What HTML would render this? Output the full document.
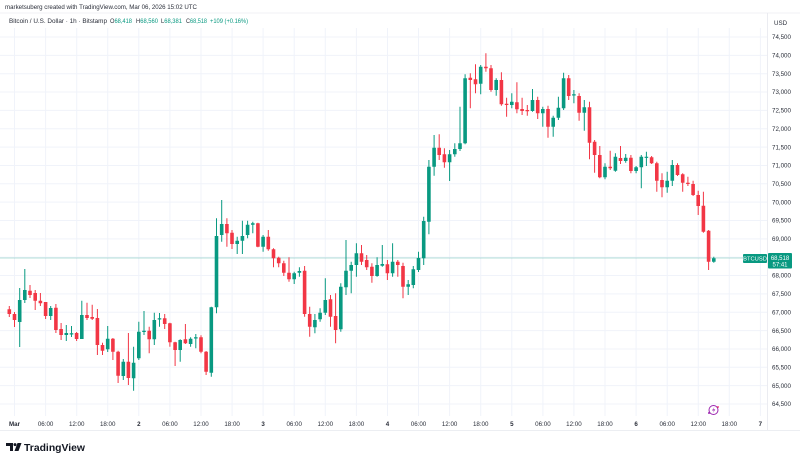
<!DOCTYPE html>
<html><head><meta charset="utf-8"><style>
html,body{margin:0;padding:0;background:#fff;}
svg{display:block;font-family:"Liberation Sans",Arial,sans-serif;}
</style></head><body>
<svg width="800" height="462" viewBox="0 0 800 462" xmlns="http://www.w3.org/2000/svg">
<rect width="800" height="462" fill="#fff"/>
<!-- header -->
<text x="5" y="9.2" font-size="6.4" fill="#2a2e39" textLength="192" lengthAdjust="spacingAndGlyphs">marketsuberg created with TradingView.com, Mar 06, 2026 15:02 UTC</text>
<line x1="0" y1="13" x2="800" y2="13" stroke="#eceef2" stroke-width="0.8"/>
<g font-size="6.4" fill="#2a2e39">
<text x="9" y="23.2" textLength="98" lengthAdjust="spacingAndGlyphs">Bitcoin / U.S. Dollar · 1h · Bitstamp</text>
<text x="110" y="23.2" textLength="22" lengthAdjust="spacingAndGlyphs">O<tspan fill="#089981">68,418</tspan></text>
<text x="136" y="23.2" textLength="22" lengthAdjust="spacingAndGlyphs">H<tspan fill="#089981">68,560</tspan></text>
<text x="161" y="23.2" textLength="21" lengthAdjust="spacingAndGlyphs">L<tspan fill="#089981">68,381</tspan></text>
<text x="186" y="23.2" textLength="21" lengthAdjust="spacingAndGlyphs">C<tspan fill="#089981">68,518</tspan></text>
<text x="210" y="23.2" fill="#089981" textLength="38" lengthAdjust="spacingAndGlyphs">+109 (+0.16%)</text>
</g>
<!-- grid -->
<g stroke="#f0f3fa" stroke-width="1">
<path d="M0 37H767M0 55.35H767M0 73.7H767M0 92.05H767M0 110.4H767M0 128.75H767M0 147.1H767M0 165.45H767M0 183.8H767M0 202.15H767M0 220.5H767M0 238.85H767M0 257.2H767M0 275.55H767M0 293.9H767M0 312.25H767M0 330.6H767M0 348.95H767M0 367.3H767M0 385.65H767M0 404H767"/>
<path d="M14.5 28V416M45.6 28V416M76.7 28V416M107.7 28V416M138.8 28V416M169.9 28V416M201 28V416M232.1 28V416M263.1 28V416M294.2 28V416M325.3 28V416M356.4 28V416M387.5 28V416M418.5 28V416M449.6 28V416M480.7 28V416M511.8 28V416M542.9 28V416M573.9 28V416M605 28V416M636.1 28V416M667.2 28V416M698.3 28V416M729.3 28V416M760.4 28V416"/>
</g>
<line x1="767.5" y1="13" x2="767.5" y2="430" stroke="#e6e8ee" stroke-width="0.8"/>
<line x1="0" y1="430.5" x2="800" y2="430.5" stroke="#e6e8ee" stroke-width="0.8"/>
<!-- current price line -->
<line x1="0" y1="258" x2="767" y2="258" stroke="#089981" stroke-opacity="0.4" stroke-width="0.8"/>
<!-- candles -->
<g fill="none" stroke-linecap="butt">
<path stroke="#f23645" stroke-width="1" d="M9.3 306V317M14.5 312V327M30 285V298M35.2 290V310M40.4 293V306M45.6 302V319M55.9 304V333M61.1 323V340M76.6 332V341M87 302.7V320M92.2 304.7V320M97.4 309V355M102.5 342.7V355M112.9 338V360M118.1 350.7V383M128.4 333V385M149.2 326.7V353.3M164.7 314V329M169.9 322.7V346.7M175.1 341.7V366M185.4 324V344M201 335.3V353.3M206.1 351V375M226.9 218.3V246.7M232 230V249M257.9 222.7V247.3M268.3 230V250.7M273.5 248.3V267.3M278.7 256.7V267.3M283.8 260.7V276M289 257.3V281.7M304.6 266V316.7M309.7 306.7V336.7M330.5 295V326.7M335.6 293.3V343.3M361.5 245V265M366.7 255V270M371.9 263.3V282.7M387.4 260V280M397.8 260V276.7M403 262.7V298.3M439.2 134.3V160M444.4 148.3V167.7M470.3 73.3V108.3M475.5 64.3V93.3M485.9 53.3V71.7M491 65V91.7M501.4 72.3V105.7M506.6 97.7V116.7M516.9 82.3V113.3M522.1 97.7V115M527.3 105V115.7M537.7 96.7V119M548 105.7V137.7M568.7 75V100M579.1 93.3V120.7M589.5 101.7V159.3M594.6 140V172.7M599.8 146V178.3M610.2 150.7V170M620.5 146V164M630.9 155V173.3M651.6 156V164M656.8 161.7V191.7M662 173.3V197.3M677.5 163.3V176M682.7 173.3V191.7M687.9 176.7V186M693.1 180.7V196M698.2 190.7V215M703.4 191.7V232.7M708.6 230V270"/>
<path stroke="#f23645" stroke-width="3.6" d="M9.3 309.3V314M14.5 314V320M30 290.7V295M35.2 293V300.7M40.4 300.7V303.3M45.6 302V316M55.9 307.7V330M61.1 329V335M76.6 333V339M87 315V318M92.2 317V318.7M97.4 318V345M102.5 345V350.7M112.9 338.7V351.7M118.1 351.7V375.7M128.4 361.7V378M149.2 330.7V339.3M164.7 318.3V324M169.9 323.3V342.3M175.1 342.3V350M185.4 339.3V343.3M201 337.3V351.7M206.1 351.7V371.7M226.9 224V233.3M232 232.7V244M257.9 223.3V246.7M268.3 236.7V249.3M273.5 249.3V258.3M278.7 257.7V263.3M283.8 263.3V272.7M289 272.7V279.3M304.6 270.7V314M309.7 314V326.7M330.5 299.3V316.7M335.6 316V330M361.5 253.3V261.7M366.7 260V267.3M371.9 266.7V276M387.4 264.3V273.3M397.8 261.7V265M403 266V286.7M439.2 147.7V155M444.4 154.3V162.3M470.3 77.7V80M475.5 79.3V84.3M485.9 66.7V68.3M491 68.3V90M501.4 80V104.3M506.6 103.7V105M516.9 102.3V109.3M522.1 109V111M527.3 110V111.2M537.7 100V113.3M548 109V126.7M568.7 78.3V96M579.1 96V112.7M589.5 107.3V142.7M594.6 141.7V155M599.8 155V177.3M610.2 166.7V168.3M620.5 158V161M630.9 157.7V171M651.6 157.3V163.3M656.8 163.3V180.7M662 180V187.3M677.5 165V175M682.7 174.3V182.7M687.9 182.7V184M693.1 184V195M698.2 195V206M703.4 205.7V231.7M708.6 230.7V261.7"/>
<path stroke="#089981" stroke-width="1" d="M19.7 288V347M24.8 269V303M50.7 306V320M66.3 325V341M71.5 326V337M81.8 300.7V339M107.7 326V352M123.3 359V380M133.6 346.7V390.7M138.8 321.7V360M144 311V335M154.3 312.7V345M159.5 313V326.7M180.2 339.3V361.7M190.6 337.3V346.7M195.8 334V348.3M211.3 306.7V376.7M216.5 218.3V313.3M221.7 200V241.7M237.2 236.7V254M242.4 220.7V254M247.6 220.7V238.3M252.8 221.7V233.3M263.1 235V251.7M294.2 271.7V284M299.4 267.3V276.7M314.9 314V333.3M320.1 308.3V321.7M325.3 278.3V315M340.8 283.3V331.7M346 240V295M351.2 261.7V293.3M356.4 243.3V276.7M377.1 257.3V276.7M382.3 245V266.7M392.6 243.3V276.7M408.2 280V295M413.3 266V288.3M418.5 251.7V272M423.7 216.7V265M428.9 160V234.3M434.1 135V175.7M449.6 150V181M454.8 143.3V156.7M460 106.7V151M465.1 74.3V144.3M480.7 65V94.3M496.2 78.3V95.7M511.8 93.3V108.3M532.5 89V111.7M542.8 106.7V126.7M553.2 115.7V136.7M558.4 96.7V120M563.6 72.7V110M573.9 90V103.3M584.3 100V130.7M605 163.3V179.3M615.4 153.3V171.7M625.7 154V162.7M636.1 166V173.3M641.3 155V188.3M646.4 151.7V166M667.2 171.7V192.7M672.3 160V186M713.8 256.7V262.7"/>
<path stroke="#089981" stroke-width="3.6" d="M19.7 300V322M24.8 290V300M50.7 308V316M66.3 333V335M71.5 333.3V334.5M81.8 315V339M107.7 338.7V349.3M123.3 361.7V376M133.6 362.7V378.3M138.8 331.7V358.3M144 330.7V332M154.3 320V339.3M159.5 318.3V319.5M180.2 340V350M190.6 338.7V344M195.8 337.3V338.5M211.3 307.3V372.7M216.5 236V307.3M221.7 224V235M237.2 240.7V244M242.4 236V240.7M247.6 224.7V235M252.8 223.3V224.7M263.1 236.7V246.7M294.2 273.3V279.3M299.4 271V272.7M314.9 320V327.3M320.1 312.7V319.3M325.3 300V312.7M340.8 286.7V329.3M346 270.7V287.3M351.2 265V270.7M356.4 253.3V265M377.1 265V276M382.3 264V265.7M392.6 261.7V273.3M408.2 284.3V286.7M413.3 269.3V285M418.5 258V270M423.7 221V258.3M428.9 166.7V221.7M434.1 147.7V166.7M449.6 154.3V162.3M454.8 149V154.3M460 143.3V149M465.1 78.3V143.3M480.7 66.7V83.7M496.2 80V90M511.8 101.7V105M532.5 100V111M542.8 109V113.3M553.2 117.7V126.7M558.4 107.7V117.7M563.6 78.3V108.3M573.9 94.3V95.5M584.3 107.3V112.7M605 166.7V177.3M615.4 156.7V170.7M625.7 157.7V161M636.1 167.3V171M641.3 156.7V167.3M646.4 156.7V157.9M667.2 180.7V187.3M672.3 165V180.7M713.8 258.3V261.7"/>
</g>
<!-- price axis -->
<g font-size="6.2" fill="#2a2e39">
<text x="774" y="25">USD</text>
<text x="772" y="39.2">74,500</text>
<text x="772" y="57.5">74,000</text>
<text x="772" y="75.9">73,500</text>
<text x="772" y="94.2">73,000</text>
<text x="772" y="112.6">72,500</text>
<text x="772" y="130.9">72,000</text>
<text x="772" y="149.3">71,500</text>
<text x="772" y="167.6">71,000</text>
<text x="772" y="186">70,500</text>
<text x="772" y="204.3">70,000</text>
<text x="772" y="222.7">69,500</text>
<text x="772" y="241">69,000</text>
<text x="772" y="277.7">68,000</text>
<text x="772" y="296.1">67,500</text>
<text x="772" y="314.4">67,000</text>
<text x="772" y="332.8">66,500</text>
<text x="772" y="351.1">66,000</text>
<text x="772" y="369.5">65,500</text>
<text x="772" y="387.8">65,000</text>
<text x="772" y="406.2">64,500</text>
</g>
<!-- last price labels -->
<rect x="743" y="254" width="24" height="9" rx="1" fill="#089981"/>
<text x="755" y="260.6" font-size="5.8" fill="#fff" text-anchor="middle">BTCUSD</text>
<rect x="768" y="253" width="24" height="15.5" rx="1" fill="#089981"/>
<text x="780" y="259.8" font-size="6" fill="#fff" text-anchor="middle">68,518</text>
<text x="780" y="266.5" font-size="6" fill="#fff" text-anchor="middle">57:41</text>
<!-- time axis -->
<g font-size="6.2" fill="#2a2e39" text-anchor="middle">
<text x="14.5" y="426" font-weight="bold">Mar</text>
<text x="45.6" y="426">06:00</text>
<text x="76.7" y="426">12:00</text>
<text x="107.7" y="426">18:00</text>
<text x="138.8" y="426" font-weight="bold">2</text>
<text x="169.9" y="426">06:00</text>
<text x="201" y="426">12:00</text>
<text x="232.1" y="426">18:00</text>
<text x="263.1" y="426" font-weight="bold">3</text>
<text x="294.2" y="426">06:00</text>
<text x="325.3" y="426">12:00</text>
<text x="356.4" y="426">18:00</text>
<text x="387.5" y="426" font-weight="bold">4</text>
<text x="418.5" y="426">06:00</text>
<text x="449.6" y="426">12:00</text>
<text x="480.7" y="426">18:00</text>
<text x="511.8" y="426" font-weight="bold">5</text>
<text x="542.9" y="426">06:00</text>
<text x="573.9" y="426">12:00</text>
<text x="605" y="426">18:00</text>
<text x="636.1" y="426" font-weight="bold">6</text>
<text x="667.2" y="426">06:00</text>
<text x="698.3" y="426">12:00</text>
<text x="729.3" y="426">18:00</text>
<text x="760.4" y="426" font-weight="bold">7</text>
</g>
<!-- purple icon -->
<circle cx="713.5" cy="410" r="4.5" fill="none" stroke="#9c27b0" stroke-width="1"/>
<path d="M714.5 406.8L712 410.5H714L712.8 413.3L715.3 409.4H713.3Z" fill="#9c27b0"/>
<circle cx="709" cy="413" r="1" fill="#9c27b0"/>
<circle cx="718" cy="407" r="0.9" fill="#e91e63"/>
<!-- logo -->
<path d="M6 443H13V451H10V446H6Z" fill="#131722"/>
<circle cx="15" cy="444.6" r="1.5" fill="#131722"/>
<path d="M17.5 443H21.5L18.5 451H14.5Z" fill="#131722"/>
<text x="24" y="451" font-size="10.5" font-weight="bold" fill="#131722" textLength="61" lengthAdjust="spacingAndGlyphs">TradingView</text>
</svg>
</body></html>
